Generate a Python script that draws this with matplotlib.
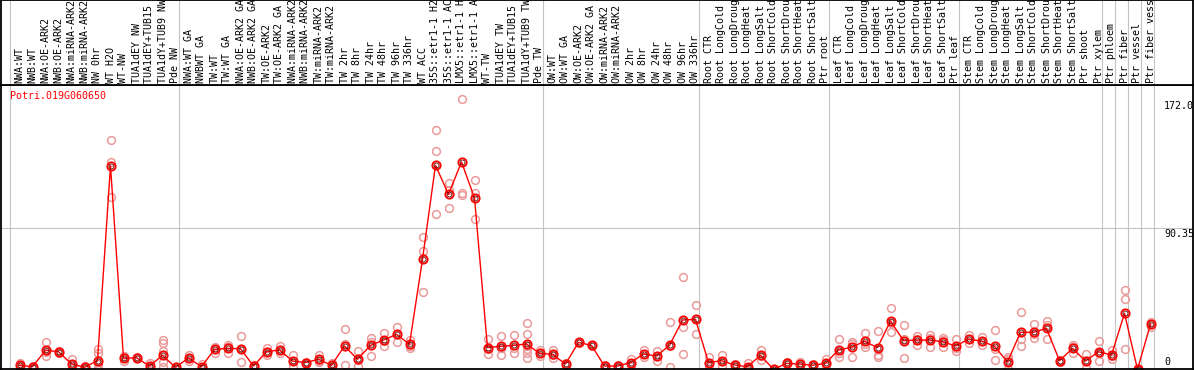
import numpy as np
import matplotlib
matplotlib.use("Agg")
import matplotlib.pyplot as plt

# ---------------------------------------------------------------------------
# data
# ---------------------------------------------------------------------------
gene_id = "Potri.019G060650"

labels_nw = ["NWA:WT", "NWB:WT", "NWA:OE-ARK2", "NWB:OE-ARK2", "NWA:miRNA-ARK2",
             "NWB:miRNA-ARK2", "NW 0hr", "WT H2O", "WT-NW", "TUA1dEY NW",
             "TUA1dEY+TUB15 NW", "TUA1dY+TUB9 NW", "Pde NW"]
labels_tw = ["NWA:WT GA", "NWBWT GA", "TW:WT", "TW:WT GA", "NWA:OE-ARK2 GA",
             "NWB:OE-ARK2 GA", "TW:OE-ARK2", "TW:OE-ARK2 GA", "NWA:miRNA-ARK2 GA",
             "NWB:miRNA-ARK2 GA", "TW:miRNA-ARK2", "TW:miRNA-ARK2 GA", "TW 2hr",
             "TW 8hr", "TW 24hr", "TW 48hr", "TW 96hr", "TW 336hr", "WT ACC",
             "35S::etr1-1 H2O", "35S::etr1-1 ACC", "LMX5::etr1-1 H2O",
             "LMX5::etr1-1 ACC", "WT-TW", "TUA1dEY TW", "TUA1dEY+TUB15 TW",
             "TUA1dY+TUB9 TW", "Pde TW"]
labels_ow = ["OW:WT", "OW:WT GA", "OW:OE-ARK2", "OW:OE-ARK2 GA", "OW:miRNA-ARK2",
             "OW:miRNA-ARK2 GA", "OW 2hr", "OW 8hr", "OW 24hr", "OW 48hr",
             "OW 96hr", "OW 336hr"]
labels_root = ["Root CTR", "Root LongCold", "Root LongDrought", "Root LongHeat",
               "Root LongSalt", "Root ShortCold", "Root ShortDrought",
               "Root ShortHeat", "Root ShortSalt", "Ptr root"]
labels_leaf = ["Leaf CTR", "Leaf LongCold", "Leaf LongDrought", "Leaf LongHeat",
               "Leaf LongSalt", "Leaf ShortCold", "Leaf ShortDrought",
               "Leaf ShortHeat", "Leaf ShortSalt", "Ptr leaf"]
labels_stem = ["Stem CTR", "Stem LongCold", "Stem LongDrought", "Stem LongHeat",
               "Stem LongSalt", "Stem ShortCold", "Stem ShortDrought",
               "Stem ShortHeat", "Stem ShortSalt", "Ptr shoot", "Ptr xylem"]
labels_ptr = ["Ptr phloem", "Ptr fiber", "Ptr vessel", "Ptr fiber vessel"]

groups = [labels_nw, labels_tw, labels_ow, labels_root, labels_leaf, labels_stem,
          labels_ptr[0:1], labels_ptr[1:2], labels_ptr[2:3], labels_ptr[3:4]]

mean_expr = [3.0, 2.1, 12.5, 11.6, 3.8, 1.7, 5.9, 129.4, 7.4, 7.8, 2.5, 9.3, 1.7,
             7.6, 2.1, 13.1, 13.7, 13.5, 2.5, 11.6, 12.7, 5.7, 4.7, 6.8, 3.0, 15.2,
             6.8, 15.6, 19.0, 22.6, 16.3, 70.2, 129.8, 111.4, 131.9, 109.1, 14.2,
             15.0, 15.6, 16.5, 10.6, 9.9, 3.8, 17.5,
             15.6, 2.5, 2.5, 4.7, 10.1, 8.9, 15.6, 31.7, 32.1,
             4.7, 5.9, 3.2, 2.1, 9.3, 0.4, 4.2, 3.8, 3.0, 4.2,
             12.7, 14.4, 18.2, 14.2, 31.1, 18.6, 19.0, 19.0, 18.0, 15.2,
             19.5, 18.4, 15.0, 5.1, 23.9, 23.9, 26.4, 5.9, 13.7, 5.7, 11.6,
             9.5, 35.9, 0.4, 29.0]

replicates = [
    [4.5, 2.5, 1.5], [2.5, 1.5, 1.0], [17.5, 11.5, 9.0], [12.0, 11.5, 11.0],
    [6.8, 3.5, 1.2], [2.5, 1.5, 1.0], [13.5, 10.5, 4.0, 1.0, 0.5],
    [145.7, 132.0, 109.5], [9.0, 8.0, 5.5], [8.0, 7.8, 7.6], [4.5, 2.2, 0.8],
    [19.0, 17.0, 12.0, 5.0, 2.2], [2.0, 1.5, 1.5],
    [9.5, 7.6, 5.5], [3.8, 1.5, 1.0], [14.4, 13.5, 10.5], [16.0, 14.5, 10.6],
    [21.6, 13.5, 5.3], [3.0, 2.5, 2.0], [14.0, 11.5, 9.5], [15.2, 12.5, 10.5],
    [9.3, 5.7, 2.1], [5.3, 4.7, 3.8], [9.5, 6.0, 5.0], [4.5, 3.0, 1.5],
    [25.8, 16.5, 3.2], [11.8, 6.2, 2.5], [20.0, 18.0, 9.0], [23.3, 18.5, 15.2],
    [27.0, 22.6, 18.0], [19.0, 15.5, 14.2], [84.6, 75.7, 49.3],
    [152.0, 138.7, 98.7], [118.4, 114.2, 102.5], [172.0, 112.0, 111.0],
    [120.5, 112.0, 95.6], [19.5, 13.0, 10.1], [21.6, 14.0, 9.5],
    [22.0, 14.0, 11.0], [30.0, 22.8, 15.2, 13.0, 10.5, 7.5], [12.5, 10.5, 9.0],
    [12.7, 9.5, 7.6], [4.5, 3.8, 3.0], [18.0, 17.5, 17.0],
    [16.0, 15.6, 15.0], [3.0, 2.5, 2.0], [3.0, 2.5, 2.0], [6.8, 4.7, 2.5],
    [12.7, 10.0, 8.0], [12.3, 8.9, 5.6], [30.4, 15.0, 1.7], [58.8, 27.0, 9.9],
    [41.2, 32.3, 22.8], [8.0, 4.5, 2.0], [9.3, 6.0, 2.5], [4.0, 3.0, 2.5],
    [4.2, 1.5, 0.6], [12.7, 9.0, 6.3], [0.5, 0.4, 0.3], [5.0, 4.2, 3.5],
    [5.3, 3.5, 2.5], [3.5, 3.0, 2.5], [6.8, 3.5, 2.3], [19.5, 10.5, 8.5],
    [18.0, 16.5, 8.5], [23.3, 16.5, 14.8], [25.0, 9.5, 8.0], [39.1, 30.0, 24.3],
    [28.5, 19.5, 7.8], [21.6, 19.5, 15.9], [22.2, 20.0, 14.8], [20.0, 19.0, 14.4],
    [19.5, 14.0, 12.3], [22.2, 19.5, 16.9], [21.0, 18.5, 15.9], [25.4, 13.4, 6.3],
    [8.0, 6.8, 0.5], [36.6, 19.5, 15.4], [29.0, 22.6, 20.0], [31.3, 28.5, 19.5],
    [6.5, 5.9, 5.3], [15.9, 14.4, 10.6], [9.9, 5.7, 1.5], [18.6, 10.5, 5.9],
    [12.7, 9.0, 6.8], [50.7, 44.8, 13.1], [0.4, 0.4, 0.4], [30.7, 29.0, 27.5],
]

y_top = 180.7
y_ticks = [172.0, 90.35, 0]
y_tick_text = ["172.0", "90.35", "0"]

# ---------------------------------------------------------------------------
# layout (pixel based, figure is 1194 x 370)
# ---------------------------------------------------------------------------
W, H = 1194, 370
COL = 13.0          # pixels per sample column
X0 = 19.5           # pixel x of first sample
PX_Y = 285 / y_top  # pixels per unit

labels = [lab for g in groups for lab in g]
n = len(labels)
xs = np.arange(n)

def px2i(px):
    return (px - X0) / COL

fig = plt.figure(figsize=(W / 100, H / 100), dpi=100)
fig.patch.set_facecolor("white")

# plot area: px x 1..1193, y 85..369
ax = fig.add_axes([1 / W, 1 / H, 1192 / W, 284 / H])
ax.set_xlim(px2i(1), px2i(1193))
ax.set_ylim((370 - 369) / PX_Y, y_top)

# header area: px y 0..85
hx = fig.add_axes([1 / W, (H - 85) / H, 1192 / W, 85 / H])
hx.set_xlim(px2i(1), px2i(1193))
hx.set_ylim(85, 0)

for a in (ax, hx):
    a.set_xticks([])
    a.set_yticks([])
    for sp in a.spines.values():
        sp.set_color("black")
        sp.set_linewidth(1.3)
        sp.set_zorder(10)

# group separators
bounds = np.cumsum([0] + [len(g) for g in groups])
for b in bounds:
    xb = b - 9.5 / COL
    ax.axvline(xb, color="#c4c4c4", lw=0.8, zorder=1)
    hx.axvline(xb, color="#c4c4c4", lw=0.8, zorder=1)

ax.axhline(y_ticks[1], color="#c4c4c4", lw=0.8, zorder=1)

# replicates
for i, reps in enumerate(replicates):
    ax.plot([i] * len(reps), reps, ls="none", marker="o", ms=5.6,
            mfc="none", mec="#ea9a9a", mew=1.1, zorder=2, clip_on=True)

# mean profile
ax.plot(xs, mean_expr, color="#ff0000", lw=1.0, zorder=3)
ax.plot(xs, mean_expr, ls="none", marker="o", ms=6.0, mfc="none",
        mec="#ff0000", mew=1.3, zorder=4)
ax.plot(xs, mean_expr, ls="none", marker="o", ms=3.6, mfc="none",
        mec="#600000", mew=0.6, zorder=5)

mono = "DejaVu Sans Mono"

ax.text(8.6 / 1192, 1 - 6 / 284, gene_id, transform=ax.transAxes,
        color="#ff0000", fontsize=7.2, family=mono, ha="left", va="top")

# right-hand scale labels
xl = px2i(1164)
ax.text(xl, y_ticks[0] - 1.5, y_tick_text[0], fontsize=7.2, family=mono,
        ha="left", va="top", clip_on=True)
ax.text(xl, y_ticks[1] - 1.0, y_tick_text[1], fontsize=7.2, family=mono,
        ha="left", va="top", clip_on=True)
ax.text(xl, y_ticks[2] + 2.0, y_tick_text[2], fontsize=7.2, family=mono,
        ha="left", va="bottom", clip_on=True)

# column labels
for i, lab in enumerate(labels):
    hx.text(i, 83, lab, rotation=90, fontsize=7.2, family=mono,
            ha="center", va="bottom", clip_on=True)

plt.savefig("out.png", dpi=100, facecolor="white")
